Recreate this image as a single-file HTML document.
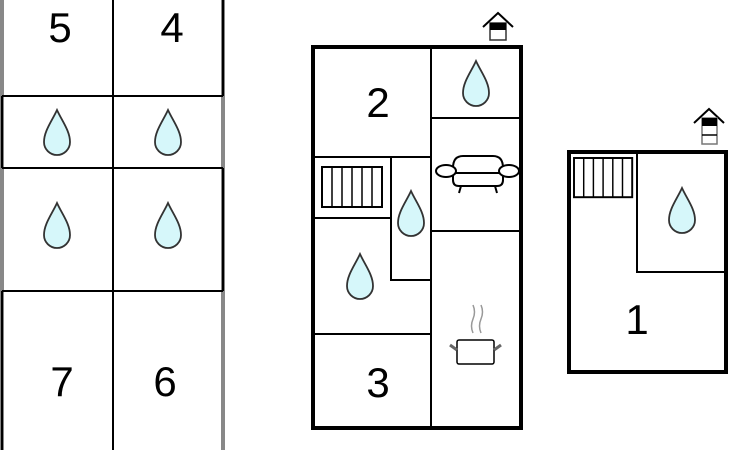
<!DOCTYPE html>
<html><head><style>
body{margin:0;background:#fff;width:730px;height:450px;overflow:hidden}
text{font-family:"Liberation Sans",sans-serif;font-size:42px;fill:#000}
</style></head><body>
<svg width="730" height="450" viewBox="0 0 730 450" xmlns="http://www.w3.org/2000/svg">
<defs>
<path id="d" d="M0,-23 C-5,-12 -13,-2 -13,9 A13,13 0 0 0 13,9 C13,-2 5,-12 0,-23 Z" fill="#d6f7fa" stroke="#333" stroke-width="1.8"/>
<g id="st"><rect x="0" y="0" width="60" height="40" fill="#fff" stroke="#000" stroke-width="2"/>
<path d="M10,0V40M20,0V40M30,0V40M40,0V40M50,0V40" stroke="#000" stroke-width="1.5"/></g>
</defs>
<!-- left panel -->
<rect x="0" y="0" width="4" height="450" fill="#888"/>
<rect x="221" y="0" width="4" height="450" fill="#888"/>
<g stroke="#000" stroke-width="2" fill="none">
<path d="M113,0V450"/>
<path d="M223,0V96"/><path d="M2,96H223"/><path d="M2,96V168"/>
<path d="M2,168H223"/><path d="M223,168V291"/><path d="M2,291H223"/><path d="M2,291V450"/>
</g>
<text x="60" y="42" text-anchor="middle">5</text>
<text x="172" y="42" text-anchor="middle">4</text>
<text x="62" y="396" text-anchor="middle">7</text>
<text x="165" y="396" text-anchor="middle">6</text>
<use href="#d" x="57" y="133"/><use href="#d" x="168" y="133"/>
<use href="#d" x="57" y="226"/><use href="#d" x="168" y="226"/>
<!-- middle building -->
<g stroke="#000" fill="none">
<rect x="313" y="47" width="208" height="381" stroke-width="4"/>
<g stroke-width="2">
<path d="M431,47V428M431,118H521M431,231H521M313,157H431M391,157V280H431M313,218H391M313,334H431"/>
</g>
</g>
<use href="#st" x="322" y="167"/>
<text x="378" y="117" text-anchor="middle">2</text>
<text x="378" y="397" text-anchor="middle">3</text>
<use href="#d" x="476" y="84"/>
<use href="#d" x="411" y="214"/>
<use href="#d" x="360" y="277"/>
<!-- sofa -->
<g stroke="#000" stroke-width="2" fill="#fff">
<path d="M453,168 q0,-12 10,-12 h30 q10,0 10,12"/>
<path d="M453,168 v12 q0,6 6,6 h38 q6,0 6,-6 v-12"/>
<path d="M453,173 H503"/>
<ellipse cx="446" cy="171" rx="10" ry="6"/>
<ellipse cx="509" cy="171" rx="10" ry="6"/>
<path d="M461,186 l-2,7 M495,186 l2,7"/>
</g>
<!-- pot -->
<g>
<path d="M473,333 q-3,-7 0,-14 q3,-7 0,-14 M481,333 q-3,-7 0,-14 q3,-7 0,-14" stroke="#999" stroke-width="1.5" fill="none"/>
<rect x="457" y="340" width="37" height="24" rx="2" fill="#fff" stroke="#000" stroke-width="1.5"/>
<path d="M450,345 l7,5 M501,345 l-7,5" stroke="#666" stroke-width="3"/>
</g>
<!-- house icon -->
<g>
<path d="M483,27 l15,-14 l15,14" stroke="#000" stroke-width="2" fill="none"/>
<rect x="490" y="23" width="16" height="17" fill="#fff" stroke="#333" stroke-width="1.5"/>
<rect x="490" y="23" width="16" height="7" fill="#000"/>
</g>
<!-- right building -->
<g stroke="#000" fill="none">
<rect x="569" y="152" width="157" height="220" stroke-width="4"/>
<path d="M637,152V272H726" stroke-width="2"/>
</g>
<g transform="translate(574,158) scale(0.97,0.98)"><use href="#st"/></g>
<use href="#d" x="682" y="211"/>
<text x="637" y="334" text-anchor="middle">1</text>
<g>
<path d="M694,123 l15,-14 l15,14" stroke="#000" stroke-width="2" fill="none"/>
<rect x="702" y="118" width="15" height="26" fill="#fff" stroke="#777" stroke-width="1.5"/>
<rect x="702" y="118" width="15" height="8" fill="#000"/>
<path d="M702,135H717" stroke="#000" stroke-width="1.5"/>
</g>
</svg>
</body></html>
